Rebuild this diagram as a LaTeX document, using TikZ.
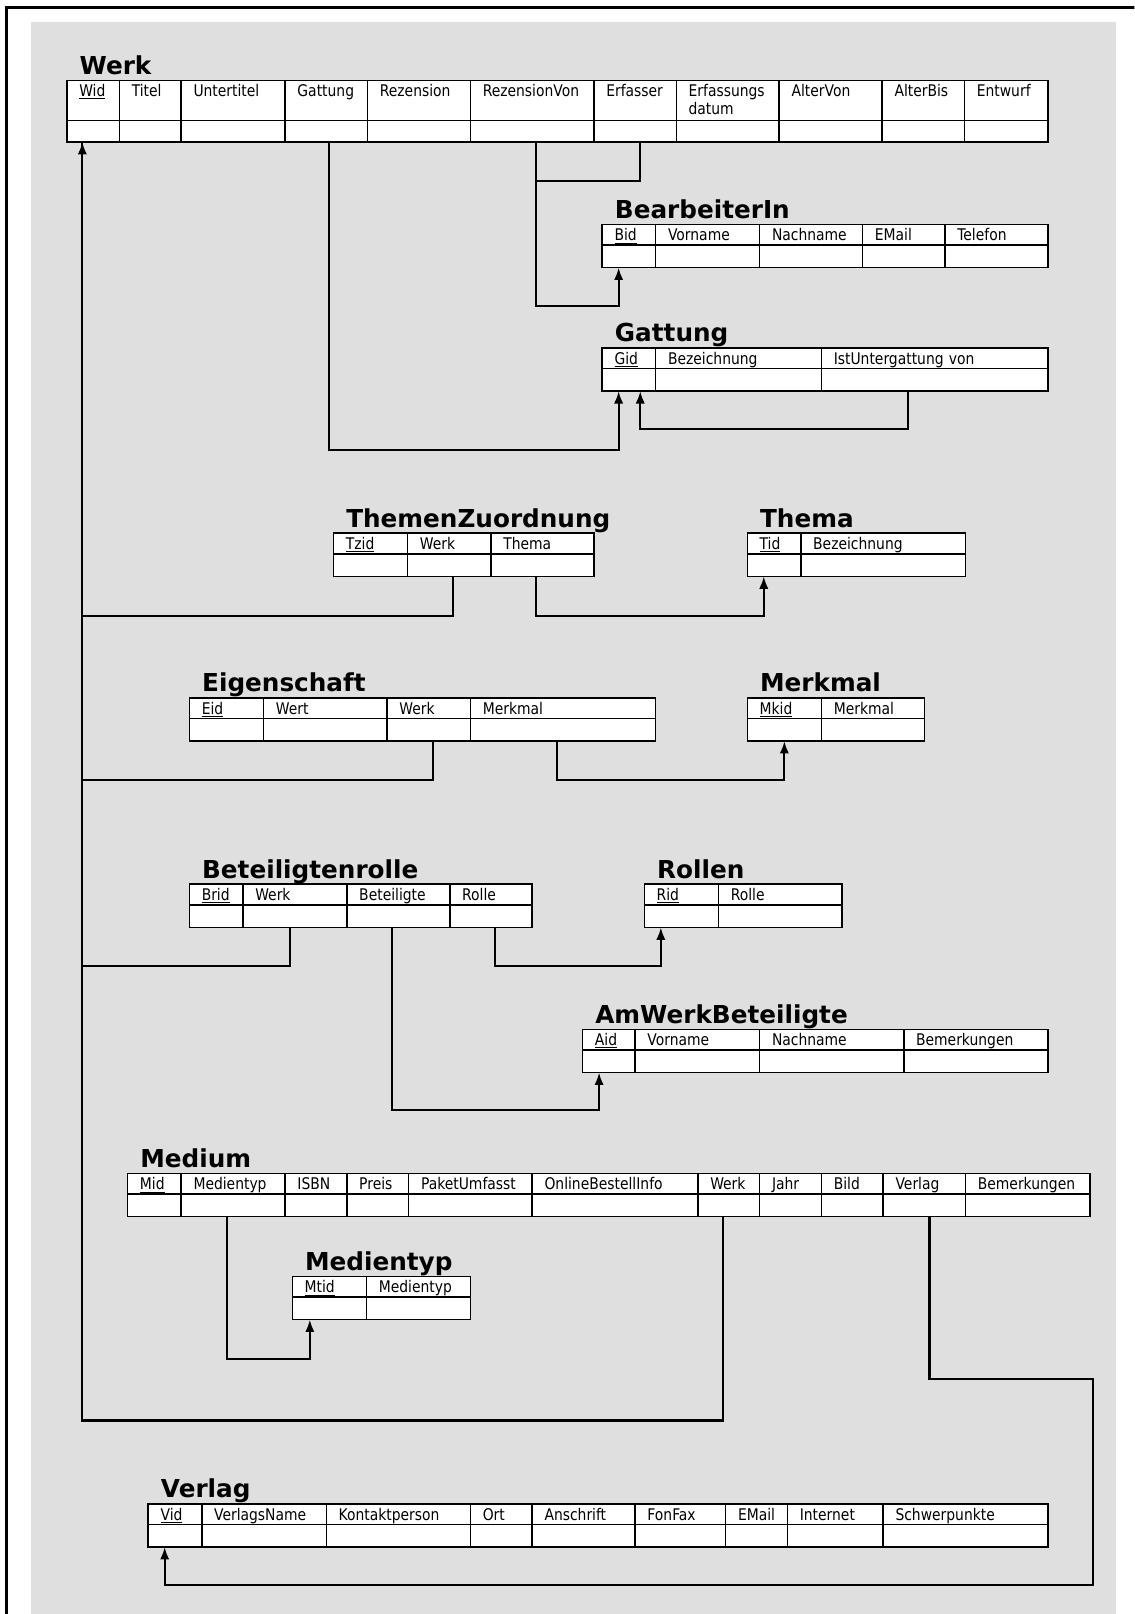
\documentclass[tikz,border=0pt]{standalone}
\usepackage{fontspec}
\usetikzlibrary{arrows.meta,calc}

\newfontfamily\feldfont[FakeStretch=0.865]{DejaVu Sans}
\newfontfamily\titelfont{DejaVu Sans}
\definecolor{grund}{RGB}{223,223,223}
% Primaerschluessel unterstrichen
\newcommand{\pk}[1]{\setbox0\hbox{#1}\rlap{\rule[-1.25pt]{\wd0}{0.45pt}}\box0}

\begin{document}
\begin{tikzpicture}[x=0.5pt, y=-0.5pt,
    titel/.style={anchor=base west, inner sep=0pt, font={\titelfont\bfseries\fontsize{12}{14}\selectfont}},
    feld/.style={draw, fill=white, line width=0.75pt, anchor=north west, outer sep=0pt,
      inner xsep=6pt, inner ysep=2pt, text height=6pt, text depth=11pt,
      align=left, font={\feldfont\fontsize{7.8}{9}\selectfont}},
    hoch/.style={text height=5.75pt, text depth=20.25pt},
    kopf/.style={line width=0.75pt},
    link/.style={line width=1pt},
    fk/.style={link, -{Latex[length=6pt,width=4.5pt]}}]
      \useasboundingbox (0,0) rectangle (1102,1568);
      \clip (0,0) rectangle (1102,1568);
      \fill[grund] (30,21) rectangle (1084,1580);
      \draw[line width=1.6pt] (6,1580) -- (6,7) -- (1110,7);

      % Werk
      \foreach \l/\r/\n/\t [evaluate=\l as \b using (\r-\l)*0.5-12] in
        {65/116/wid/\pk{Wid}, 116/176/titel/Titel, 176/277/untertitel/Untertitel,
         277/357/gattung/Gattung, 357/457/rezension/Rezension, 457/577/rezvon/RezensionVon,
         577/657/erfasser/Erfasser, 657/757/erfdatum/Erfassungs\\datum, 757/857/altervon/AlterVon,
         857/937/alterbis/AlterBis, 937/1018/entwurf/Entwurf}
        \node[feld, hoch, text width=\b pt] (werk-\n) at (\l,78) {\t};
      \draw[kopf] ($(werk-wid.north west)+(0,39)$) -- ($(werk-entwurf.north east)+(0,39)$);
      \node[titel] (werk) at ($(werk-wid.north west)+(12,-6)$) {Werk};

      % BearbeiterIn
      \foreach \l/\r/\n/\t [evaluate=\l as \b using (\r-\l)*0.5-12] in
        {585/637/bid/\pk{Bid}, 637/738/vorname/Vorname, 738/838/nachname/Nachname,
         838/918/email/EMail, 918/1018/telefon/Telefon}
        \node[feld, text width=\b pt] (bearb-\n) at (\l,218) {\t};
      \draw[kopf] ($(bearb-bid.north west)+(0,20)$) -- ($(bearb-telefon.north east)+(0,20)$);
      \node[titel] (bearb) at ($(bearb-bid.north west)+(12,-6)$) {BearbeiterIn};

      % Gattung
      \foreach \l/\r/\n/\t [evaluate=\l as \b using (\r-\l)*0.5-12] in
        {585/637/gid/\pk{Gid}, 637/798/bez/Bezeichnung, 798/1018/ist/IstUntergattung von}
        \node[feld, text width=\b pt] (gatt-\n) at (\l,338) {\t};
      \draw[kopf] ($(gatt-gid.north west)+(0,20)$) -- ($(gatt-ist.north east)+(0,20)$);
      \node[titel] (gatt) at ($(gatt-gid.north west)+(12,-6)$) {Gattung};

      % ThemenZuordnung
      \foreach \l/\r/\n/\t [evaluate=\l as \b using (\r-\l)*0.5-12] in
        {324/396/tzid/\pk{Tzid}, 396/477/werk/Werk, 477/577/thema/Thema}
        \node[feld, text width=\b pt] (tz-\n) at (\l,518) {\t};
      \draw[kopf] ($(tz-tzid.north west)+(0,20)$) -- ($(tz-thema.north east)+(0,20)$);
      \node[titel] (tz) at ($(tz-tzid.north west)+(12,-6)$) {ThemenZuordnung};

      % Thema
      \foreach \l/\r/\n/\t [evaluate=\l as \b using (\r-\l)*0.5-12] in
        {726/778/tid/\pk{Tid}, 778/938/bez/Bezeichnung}
        \node[feld, text width=\b pt] (thema-\n) at (\l,518) {\t};
      \draw[kopf] ($(thema-tid.north west)+(0,20)$) -- ($(thema-bez.north east)+(0,20)$);
      \node[titel] (thema) at ($(thema-tid.north west)+(12,-6)$) {Thema};

      % Eigenschaft
      \foreach \l/\r/\n/\t [evaluate=\l as \b using (\r-\l)*0.5-12] in
        {184/256/eid/\pk{Eid}, 256/376/wert/Wert, 376/457/werk/Werk, 457/637/merkmal/Merkmal}
        \node[feld, text width=\b pt] (eig-\n) at (\l,678) {\t};
      \draw[kopf] ($(eig-eid.north west)+(0,20)$) -- ($(eig-merkmal.north east)+(0,20)$);
      \node[titel] (eig) at ($(eig-eid.north west)+(12,-6)$) {Eigenschaft};

      % Merkmal
      \foreach \l/\r/\n/\t [evaluate=\l as \b using (\r-\l)*0.5-12] in
        {726/798/mkid/\pk{Mkid}, 798/898/merkmal/Merkmal}
        \node[feld, text width=\b pt] (merkmal-\n) at (\l,678) {\t};
      \draw[kopf] ($(merkmal-mkid.north west)+(0,20)$) -- ($(merkmal-merkmal.north east)+(0,20)$);
      \node[titel] (merkmal) at ($(merkmal-mkid.north west)+(12,-6)$) {Merkmal};

      % Beteiligtenrolle
      \foreach \l/\r/\n/\t [evaluate=\l as \b using (\r-\l)*0.5-12] in
        {184/236/brid/\pk{Brid}, 236/337/werk/Werk, 337/437/beteiligte/Beteiligte, 437/517/rolle/Rolle}
        \node[feld, text width=\b pt] (br-\n) at (\l,859) {\t};
      \draw[kopf] ($(br-brid.north west)+(0,20)$) -- ($(br-rolle.north east)+(0,20)$);
      \node[titel] (br) at ($(br-brid.north west)+(12,-6)$) {Beteiligtenrolle};

      % Rollen
      \foreach \l/\r/\n/\t [evaluate=\l as \b using (\r-\l)*0.5-12] in
        {626/698/rid/\pk{Rid}, 698/818/rolle/Rolle}
        \node[feld, text width=\b pt] (rollen-\n) at (\l,859) {\t};
      \draw[kopf] ($(rollen-rid.north west)+(0,20)$) -- ($(rollen-rolle.north east)+(0,20)$);
      \node[titel] (rollen) at ($(rollen-rid.north west)+(12,-6)$) {Rollen};

      % AmWerkBeteiligte
      \foreach \l/\r/\n/\t [evaluate=\l as \b using (\r-\l)*0.5-12] in
        {566/617/aid/\pk{Aid}, 617/738/vorname/Vorname, 738/878/nachname/Nachname,
         878/1018/bem/Bemerkungen}
        \node[feld, text width=\b pt] (amwb-\n) at (\l,1000) {\t};
      \draw[kopf] ($(amwb-aid.north west)+(0,20)$) -- ($(amwb-bem.north east)+(0,20)$);
      \node[titel] (amwb) at ($(amwb-aid.north west)+(12,-6)$) {AmWerkBeteiligte};

      % Medium
      \foreach \l/\r/\n/\t [evaluate=\l as \b using (\r-\l)*0.5-12] in
        {124/176/mid/\pk{Mid}, 176/277/medientyp/Medientyp, 277/337/isbn/ISBN,
         337/397/preis/Preis, 397/517/paket/PaketUmfasst, 517/678/online/OnlineBestellInfo,
         678/738/werk/Werk, 738/798/jahr/Jahr, 798/858/bild/Bild, 858/938/verlag/Verlag,
         938/1059/bem/Bemerkungen}
        \node[feld, text width=\b pt] (medium-\n) at (\l,1140) {\t};
      \draw[kopf] ($(medium-mid.north west)+(0,20)$) -- ($(medium-bem.north east)+(0,20)$);
      \node[titel] (medium) at ($(medium-mid.north west)+(12,-6)$) {Medium};

      % Medientyp
      \foreach \l/\r/\n/\t [evaluate=\l as \b using (\r-\l)*0.5-12] in
        {284/356/mtid/\pk{Mtid}, 356/457/medientyp/Medientyp}
        \node[feld, text width=\b pt] (mtyp-\n) at (\l,1240) {\t};
      \draw[kopf] ($(mtyp-mtid.north west)+(0,20)$) -- ($(mtyp-medientyp.north east)+(0,20)$);
      \node[titel] (mtyp) at ($(mtyp-mtid.north west)+(12,-6)$) {Medientyp};

      % Verlag
      \foreach \l/\r/\n/\t [evaluate=\l as \b using (\r-\l)*0.5-12] in
        {144/196/vid/\pk{Vid}, 196/317/name/VerlagsName, 317/457/kontakt/Kontaktperson,
         457/517/ort/Ort, 517/617/anschrift/Anschrift, 617/705/fonfax/FonFax, 705/765/email/EMail,
         765/858/internet/Internet, 858/1018/schwerpunkte/Schwerpunkte}
        \node[feld, text width=\b pt] (verlag-\n) at (\l,1461) {\t};
      \draw[kopf] ($(verlag-vid.north west)+(0,20)$) -- ($(verlag-schwerpunkte.north east)+(0,20)$);
      \node[titel] (verlag) at ($(verlag-vid.north west)+(12,-6)$) {Verlag};

      % Verweise auf Werk
      \coordinate (stamm) at ($(werk-wid.south west)+(15,0)$);
      \draw[link] ($(tz-werk.south)+(4,0)$) -- ++(0,38) -| (stamm);
      \draw[link] ($(eig-werk.south)+(4,0)$) -- ++(0,38) -| (stamm);
      \draw[link] ($(br-werk.south)+(-5,0)$) -- ++(0,37) -| (stamm);
      \draw[fk] ($(medium-werk.south)+(-6,0)$) -- ++(0,198) -| (stamm);

      % uebrige Fremdschluessel
      \draw[fk] ($(werk-gattung.south)+(3,0)$) -- ++(0,299) -| ($(gatt-gid.south west)+(16,0)$);
      \draw[fk] ($(werk-rezvon.south)+(4,0)$) -- ++(0,159) -| ($(bearb-bid.south west)+(16,0)$);
      \draw[link] ($(werk-erfasser.south)+(5,0)$) -- ++(0,38) -| ($(werk-rezvon.south)+(4,0)$);
      \draw[fk] ($(gatt-ist.south)+(-26,0)$) -- ++(0,37) -| ($(gatt-gid.south west)+(37,0)$);
      \draw[fk] ($(tz-thema.south)+(-6,0)$) -- ++(0,38) -| ($(thema-tid.south west)+(16,0)$);
      \draw[fk] ($(eig-merkmal.south)+(-6,0)$) -- ++(0,38) -| (merkmal-mkid.south);
      \draw[fk] ($(br-rolle.south)+(4,0)$) -- ++(0,37) -| ($(rollen-rid.south west)+(16,0)$);
      \draw[fk] ($(br-beteiligte.south)+(-6,0)$) -- ++(0,177) -| ($(amwb-aid.south west)+(16,0)$);
      \draw[fk] ($(medium-medientyp.south)+(-6,0)$) -- ++(0,138) -| ($(mtyp-mtid.south west)+(17,0)$);
      \draw[fk] ($(medium-verlag.south)+(5,0)$) -- ++(0,158) -- ++(159,0) -- ++(0,200)
        -| ($(verlag-vid.south west)+(16,0)$);
\end{tikzpicture}
\end{document}
